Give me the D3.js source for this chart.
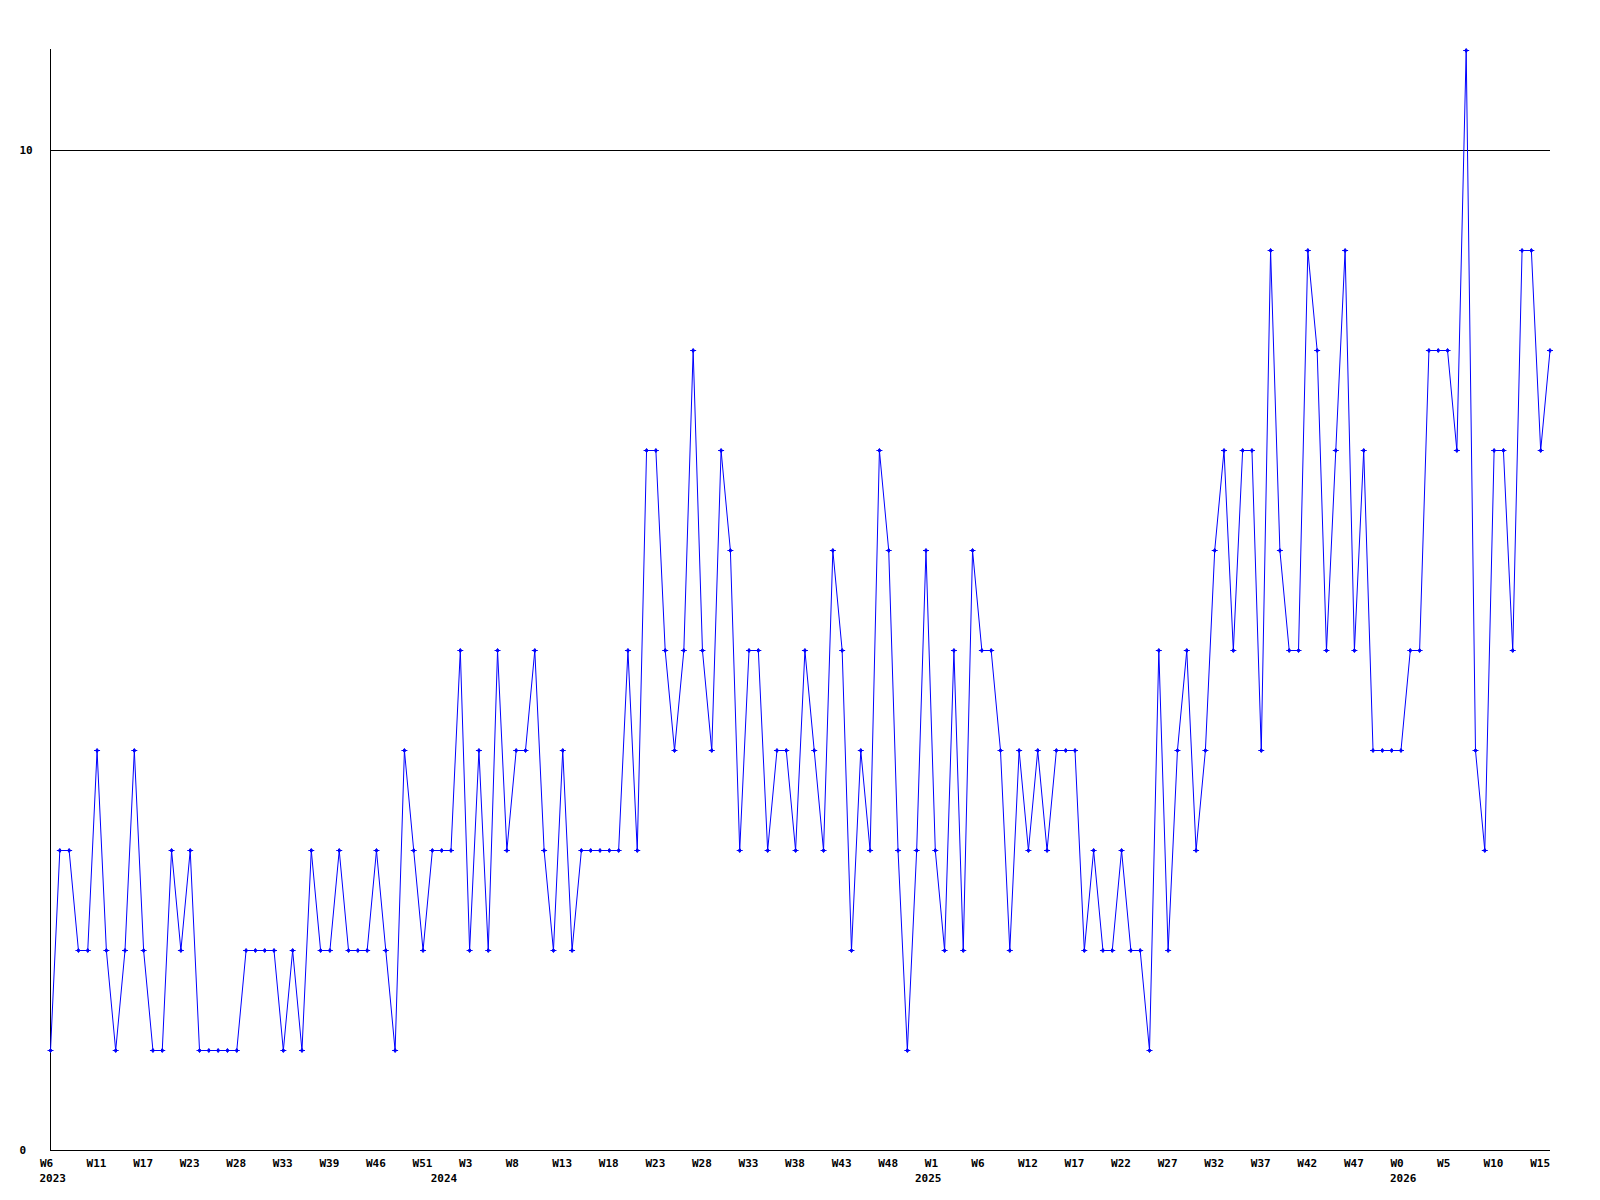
<!DOCTYPE html>
<html>
<head>
<meta charset="utf-8">
<script src="https://d3js.org/d3.v7.min.js"></script>
<style>
  body { margin: 0; background: #fff; }
  svg text { font-family: "DejaVu Sans Mono", monospace; font-size: 11px; font-weight: bold; fill: #000; }
</style>
</head>
<body>
<svg id="chart" width="1600" height="1200"></svg>
<script>
// weekly counts, W6 2023 .. W16 2026
var values = [
    1,3,3,2,2,4,2,1,2,4,2,1,1,3,2,3,1,1,1,1,1,
    2,2,2,2,1,2,1,3,2,2,3,2,2,2,3,2,1,4,3,2,
    3,3,3,5,2,4,2,5,3,4,4,5,3,2,4,2,3,3,3,3,3,
    5,3,7,7,5,4,5,8,5,4,7,6,3,5,5,3,4,4,3,5,
    4,3,6,5,2,4,3,7,6,3,1,3,6,3,2,5,2,6,5,5,
    4,2,4,3,4,3,4,4,4,2,3,2,2,3,2,2,1,5,2,4,5,
    3,4,6,7,5,7,7,4,9,6,5,5,9,8,5,7,9,5,7,4,
    4,4,4,5,5,8,8,8,7,11,4,3,7,7,5,9,9,7,8
];

// one label every 5 weeks
var weekLabels = ["W6","W11","W17","W23","W28","W33","W39","W46","W51","W3","W8",
    "W13","W18","W23","W28","W33","W38","W43","W48","W1","W6","W12","W17",
    "W22","W27","W32","W37","W42","W47","W0","W5","W10","W15"];
var labelStep = 5;

var years = ["2023","2024","2025","2026"];
var yearIndex = [0, 42, 94, 145];

var yTicks = [0, 10];

var svg = d3.select("#chart");

var xScale = d3.scaleLinear()
    .domain([0, values.length - 1])
    .range([50.5, 1550]);
var yScale = d3.scaleLinear()
    .domain([0, 11])
    .range([1150, 50]);

// reference line at 10
svg.append("line")
    .attr("x1", 50).attr("x2", 1550)
    .attr("y1", yScale(10) + 0.5).attr("y2", yScale(10) + 0.5)
    .attr("stroke", "#000").attr("stroke-width", 1);

// x axis
var tickIdx = weekLabels.map(function (d, i) { return i * labelStep; });
var xAxis = d3.axisBottom(xScale)
    .tickValues(tickIdx)
    .tickSize(0)
    .tickFormat(function (d, i) { return weekLabels[i]; });
var gx = svg.append("g")
    .attr("transform", "translate(0,1150.5)")
    .call(xAxis);
gx.select(".domain").attr("d", "M50,0H1550").attr("stroke", "#000");
gx.selectAll("text")
    .attr("text-anchor", "start")
    .attr("x", -11)
    .attr("y", 16.5)
    .attr("dy", null)
    .attr("fill", "#000");

// year labels
svg.selectAll(".year")
    .data(years)
    .enter().append("text")
    .attr("class", "year")
    .attr("x", function (d, i) { return xScale(yearIndex[i]) - 11; })
    .attr("y", 1182)
    .text(function (d) { return d; });

// y axis
var yAxis = d3.axisLeft(yScale)
    .tickValues(yTicks)
    .tickSize(0)
    .tickFormat(d3.format("d"));
var gy = svg.append("g")
    .attr("transform", "translate(50.5,0)")
    .call(yAxis);
gy.select(".domain").attr("d", "M0,49V1150").attr("stroke", "#000");
gy.selectAll("text")
    .attr("text-anchor", "start")
    .attr("x", -31)
    .attr("dy", "0.32em")
    .attr("fill", "#000");

// series line
var line = d3.line()
    .x(function (d, i) { return xScale(i); })
    .y(function (d) { return yScale(d) + 0.5; });
svg.append("path")
    .datum(values)
    .attr("d", line)
    .attr("fill", "none")
    .attr("stroke", "#0000ff")
    .attr("stroke-width", 1);

// point markers: small diamond with a short horizontal bar
svg.selectAll(".pt")
    .data(values)
    .enter().append("path")
    .attr("class", "pt")
    .attr("d", function (d, i) {
        var x = xScale(i), y = yScale(d) + 0.5;
        return "M" + (x - 3) + "," + y + "H" + (x + 3) +
            "M" + x + "," + (y - 2) + "L" + (x + 1.5) + "," + y +
            "L" + x + "," + (y + 2) + "L" + (x - 1.5) + "," + y + "Z";
    })
    .attr("fill", "#0000ff")
    .attr("stroke", "#0000ff")
    .attr("stroke-width", 1);
</script>
</body>
</html>
